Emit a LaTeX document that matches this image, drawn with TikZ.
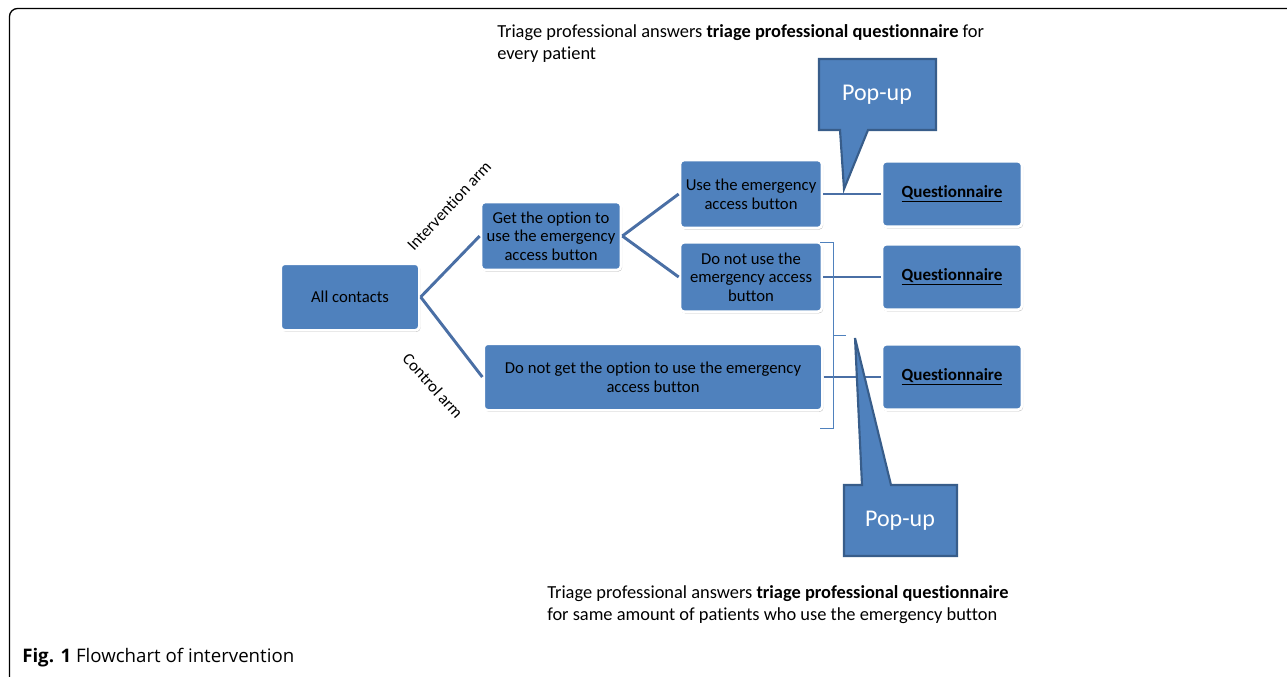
\documentclass[tikz,border=0pt]{standalone}
\usepackage{fontspec}
\setmainfont{Carlito}[Ligatures=NoCommon]
\newfontfamily\capfont{Open Sans}
\usetikzlibrary{shadows}

\definecolor{boxblue}{HTML}{4F81BD}
\definecolor{linkblue}{HTML}{4A6FA5}
\definecolor{popedge}{HTML}{385D8A}

\tikzset{%
  every box/.style={
    rectangle,
    rounded corners=3pt,
    fill=boxblue,
    draw=white,
    line width=2pt,
    align=center,
    font=\fontsize{12.5}{14}\selectfont,
    drop shadow={shadow xshift=0.8pt, shadow yshift=-1.2pt, fill=black, opacity=0.25}
  },
  box quest/.style={
    minimum width=105pt,
    minimum height=49pt,
    font=\fontsize{12.8}{14}\selectfont\bfseries
  },
  link/.style={
    draw=linkblue,
    line width=2.2pt
  },
  popup/.style={
    fill=boxblue,
    draw=popedge,
    line width=1.6pt,
    line join=miter
  },
  popup text/.style={
    text=white,
    font=\fontsize{18}{20}\selectfont
  },
  arm label/.style={
    font=\fontsize{12.5}{14}\selectfont
  },
  note/.style={
    align=left,
    inner sep=0pt,
    font=\fontsize{13.8}{16.5}\selectfont
  },
}

\begin{document}
\begin{tikzpicture}[x=0.75pt, y=-0.75pt]
\useasboundingbox (0,0) rectangle (1287,676);

% frame
\draw [line width=1pt, rounded corners=6pt] (1290,8.5) -- (9.5,8.5) -- (9.5,690);

% boxes
\node [every box, minimum width=104pt, minimum height=50pt] (all) at (350,297) {All contacts};
\node [every box, minimum width=105pt, minimum height=51pt] (option) at (551,236)
  {Get the option to\\use the emergency\\access button};
\node [every box, minimum width=106.5pt, minimum height=51pt] (use) at (751,194)
  {Use the emergency\\access button};
\node [every box, minimum width=106.5pt, minimum height=52pt] (notuse) at (751,277)
  {Do not use the\\emergency access\\button};
\node [every box, minimum width=254pt, minimum height=50pt] (nooption) at (653,377)
  {Do not get the option to use the emergency\\access button};

\foreach \m/\y in {1/194,2/277,3/377}
  \node [every box, box quest] (quest-\m) at (952,\y) {\underline{Questionnaire}};

% connectors
\draw [link] (all.east) -- (option.west);
\draw [link] (all.east) -- (nooption.west);
\draw [link] (option.east) -- (use.west);
\draw [link] (option.east) -- (notuse.west);
\draw [link] (use.east) -- (quest-1.west);
\draw [link] (notuse.east) -- (quest-2.west);
\draw [link] (nooption.east) -- (quest-3.west);

% arm labels
\node [arm label, rotate=47] (intarm) at (449,206) {Intervention arm};
\node [arm label, rotate=-48] (ctrlarm) at (433,386) {Control arm};

% bracket
\draw [boxblue, line width=0.7pt] (820,242) -- (833,242) -- (833,428) -- (820,428);
\draw [boxblue, line width=0.7pt] (833,335) -- (846,335);

% pop-ups
\draw [popup] (819,59) -- (936,59) -- (936,130) -- (868,130) -- (844,189)
  -- (840,130) -- (819,130) -- cycle;
\node [popup text] (popup-1) at (877,95) {Pop-up};
\draw [popup] (844,485) -- (862,485) -- (855,338) -- (891,485) -- (957,485)
  -- (957,556) -- (844,556) -- cycle;
\node [popup text] (popup-2) at (900,521) {Pop-up};

% notes
\node [note, anchor=north west] (topnote) at (497,24)
  {Triage professional answers \textbf{triage professional questionnaire} for\\every patient};
\node [note, anchor=north west] (botnote) at (547,585)
  {Triage professional answers \textbf{triage professional questionnaire}\\for same amount of patients who use the emergency button};

% caption
\node [anchor=west, inner sep=0pt, font=\capfont\fontsize{14}{16}\selectfont] (caption) at (22,658)
  {\textbf{Fig. 1} Flowchart of intervention};

\end{tikzpicture}
\end{document}
